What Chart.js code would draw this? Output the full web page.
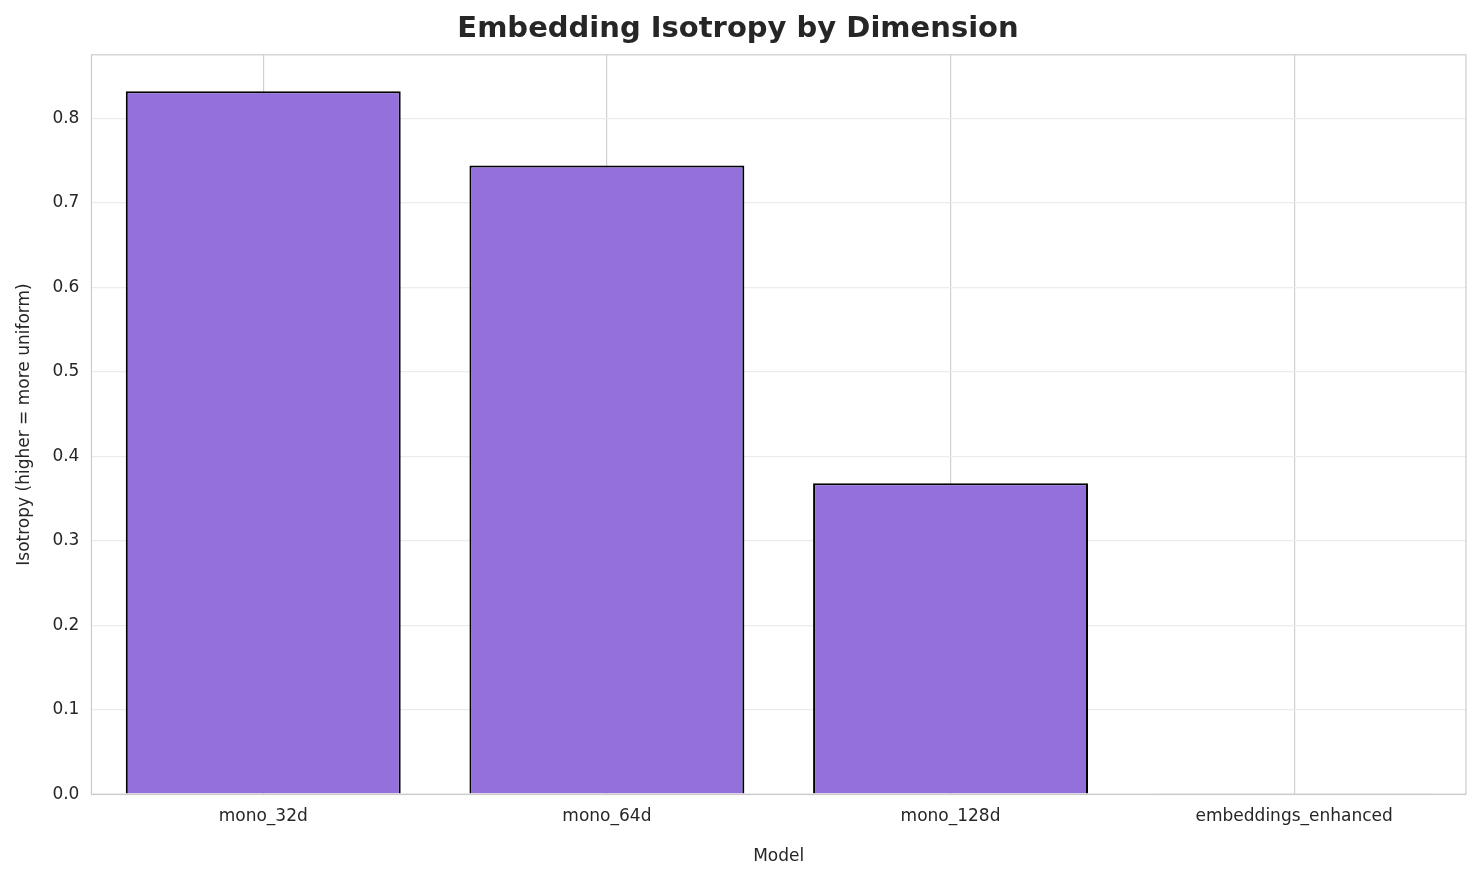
<!DOCTYPE html>
<html>
<head>
<meta charset="utf-8">
<script src="https://cdn.jsdelivr.net/npm/chart.js@4"></script>
<style>body{margin:0;background:#fff}</style>
</head>
<body>
<canvas id="myChart" width="1484" height="885"></canvas>
<script>
var models = ['mono_32d', 'mono_64d', 'mono_128d', 'embeddings_enhanced'];
var isotropy = [0.832, 0.744, 0.368, 0.001];
var yTicks = [0, 0.1, 0.2, 0.3, 0.4, 0.5, 0.6, 0.7, 0.8];

Chart.defaults.font.family = 'DejaVu Sans';
Chart.defaults.color = '#262626';

var frame = {
  id: 'frame',
  afterDraw: function (chart) {
    var a = chart.chartArea, c = chart.ctx;
    c.save();
    c.strokeStyle = '#cccccc';
    c.lineWidth = 1.2;
    c.strokeRect(a.left, a.top, a.right - a.left, a.bottom - a.top);
    c.restore();
  }
};

var ctx = document.getElementById('myChart').getContext('2d');
var myChart = new Chart(ctx, {
  type: 'bar',
  data: {
    labels: models,
    datasets: [{
      data: isotropy,
      backgroundColor: '#9370db',
      borderColor: ['#000', '#000', '#000', '#999'],
      borderWidth: 2,
      categoryPercentage: 1,
      barPercentage: 0.8
    }]
  },
  options: {
    responsive: false,
    animation: false,
    layout: { padding: { top: 0, right: 18, bottom: 14, left: 10 } },
    plugins: {
      legend: { display: false },
      tooltip: { enabled: false },
      title: {
        display: true,
        text: 'Embedding Isotropy by Dimension',
        font: { size: 29, weight: 'bold' },
        padding: { top: 12, bottom: 8 }
      }
    },
    scales: {
      x: {
        grid: { color: '#d0d0d0', lineWidth: 1.2, drawTicks: false, offset: false },
        border: { color: '#cccccc' },
        ticks: { font: { size: 17 }, padding: 12 },
        title: { display: true, text: 'Model', font: { size: 17 }, padding: { top: 8 } }
      },
      y: {
        min: 0,
        max: 0.875,
        afterBuildTicks: function (axis) {
          axis.ticks = yTicks.map(function (v) { return { value: v }; });
        },
        grid: { color: '#ececec', lineWidth: 1.2, drawTicks: false },
        border: { color: '#cccccc' },
        ticks: { font: { size: 17 }, padding: 12, callback: function (v) { return v.toFixed(1); } },
        title: { display: true, text: 'Isotropy (higher = more uniform)', font: { size: 17 }, padding: { bottom: 6 } }
      }
    }
  },
  plugins: [frame]
});
</script>
</body>
</html>
